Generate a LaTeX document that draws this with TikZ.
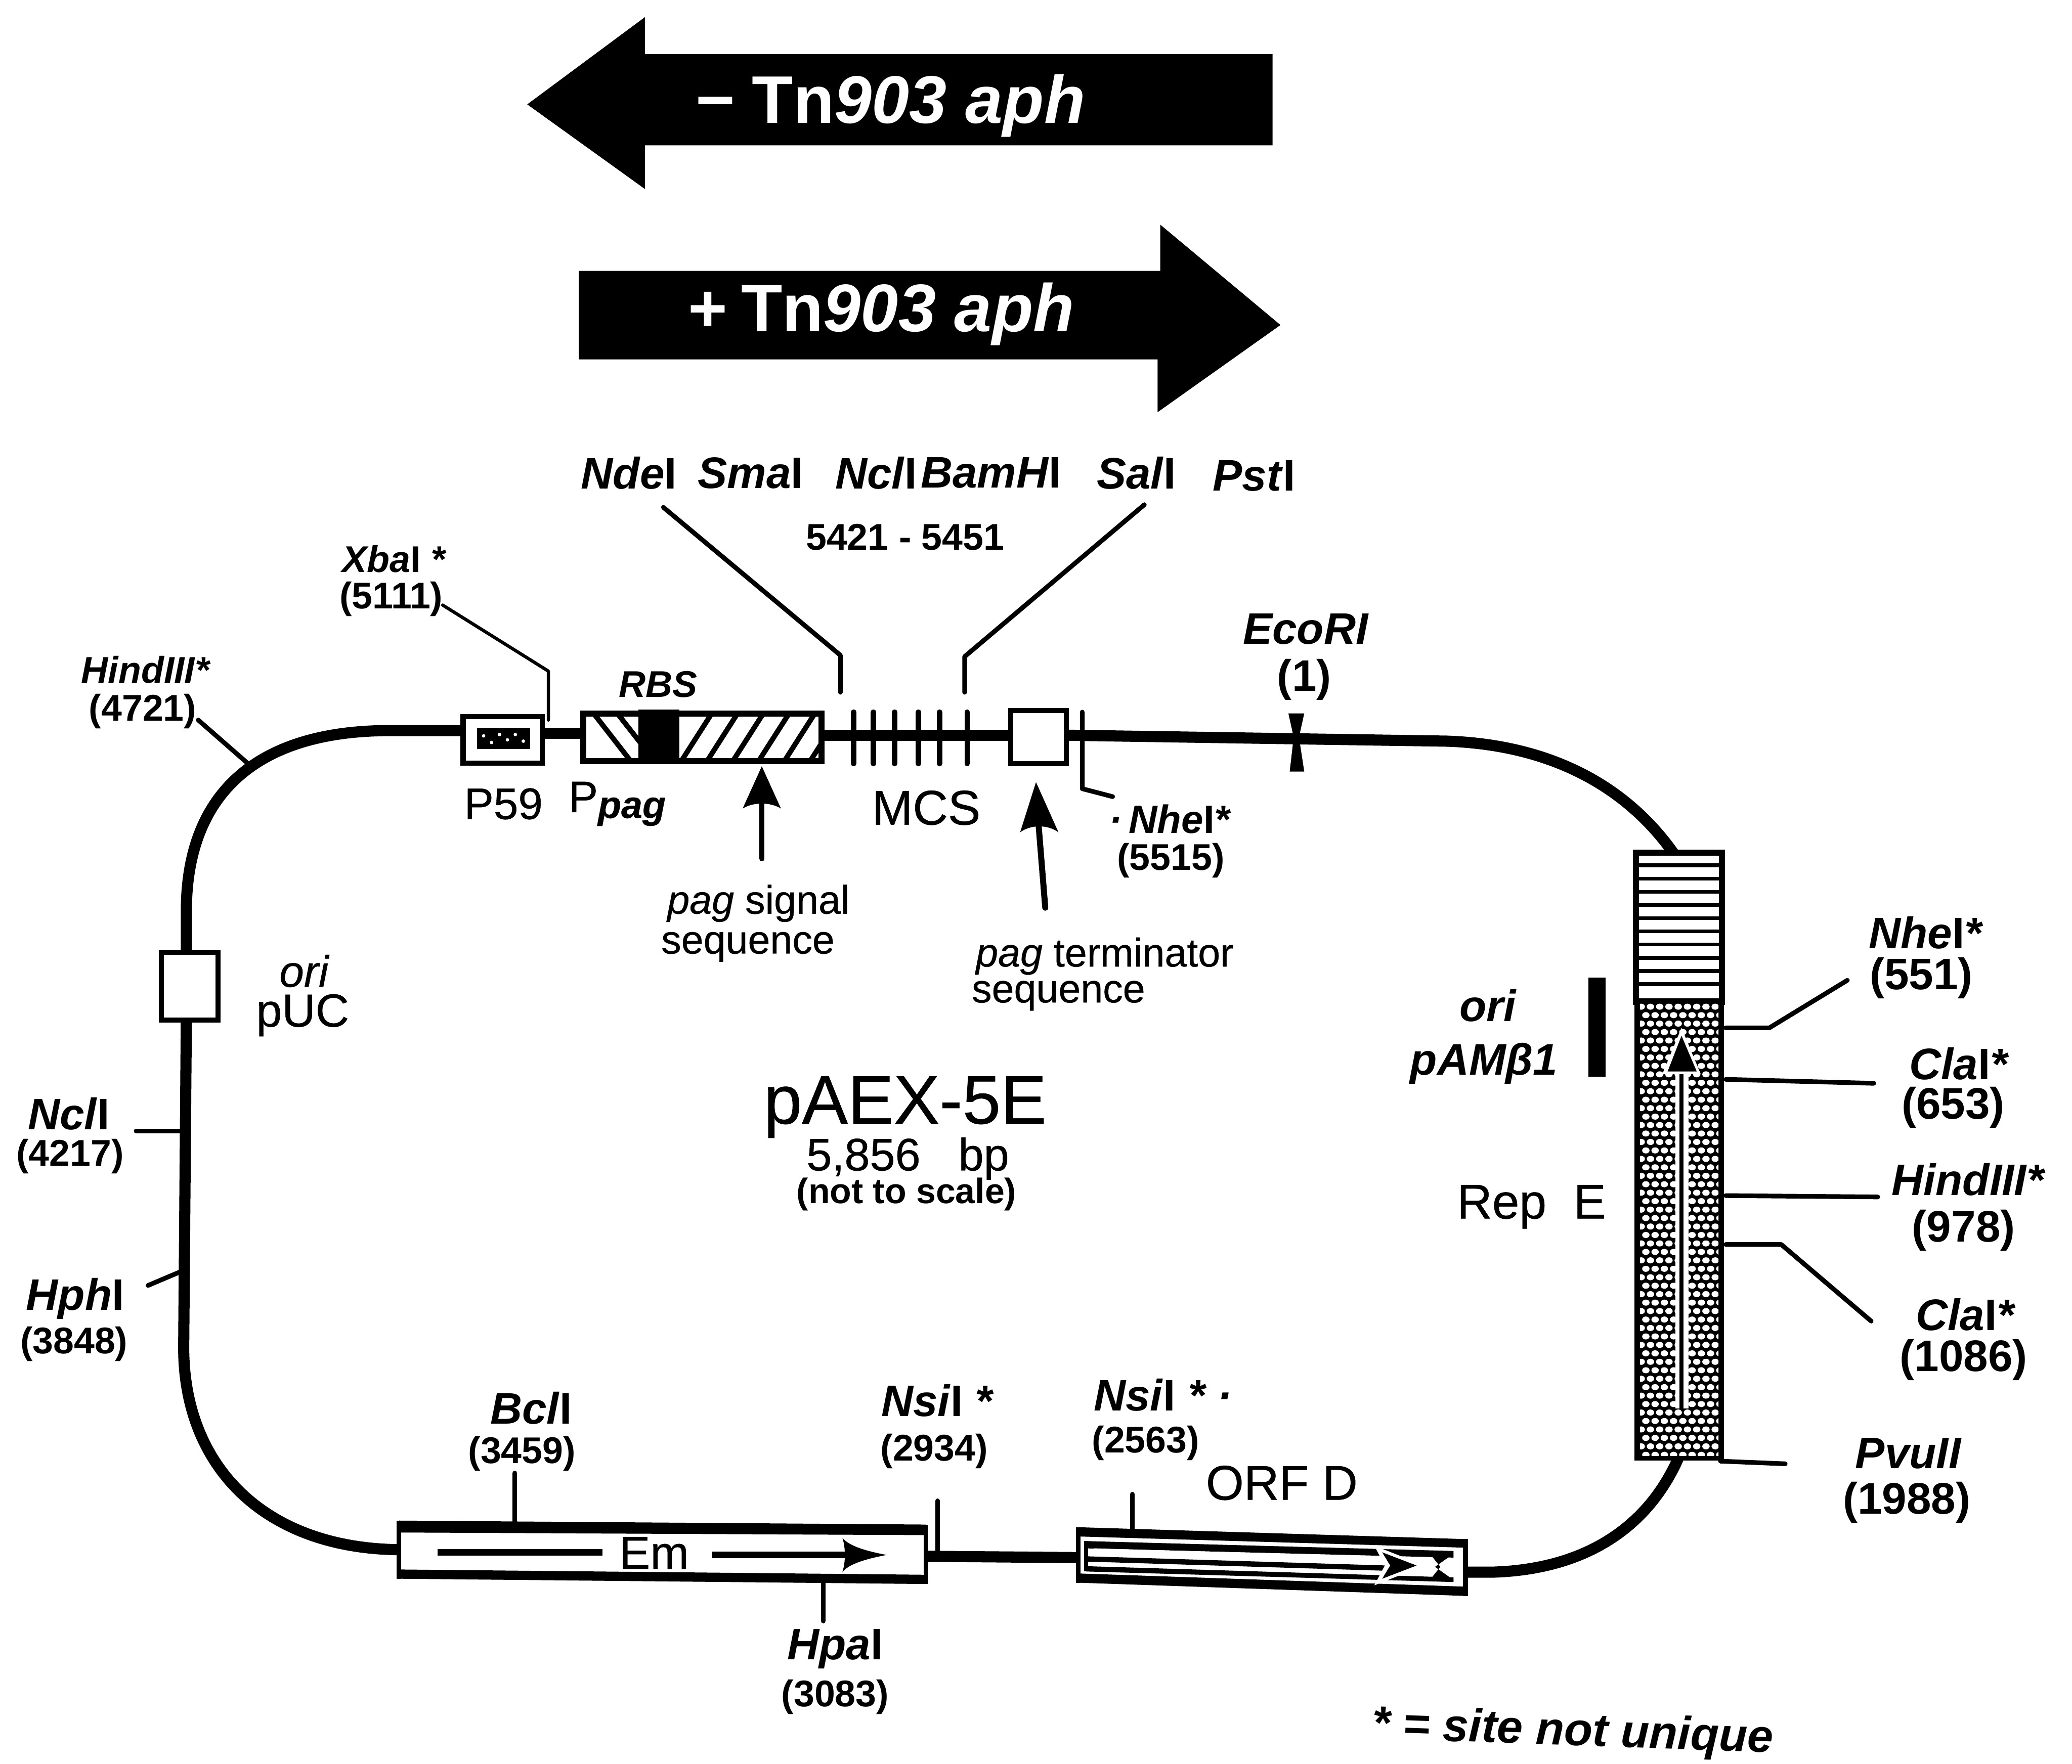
\documentclass[tikz,border=0pt]{standalone}
\usepackage{fontspec}
\setmainfont{Liberation Sans}
\newcommand{\FS}[1]{\fontsize{#1}{#1}\selectfont}
\newcommand{\Semi}{\addfontfeature{FakeBold=0.5}}
\newcommand{\En}[1]{{\itshape #1}\textup{I}}
\newcommand{\Pg}{{\itshape\Semi pag}}
\tikzset{
  x=0.01cm,y=-0.01cm,
  lab/.style={inner sep=0,outer sep=0,anchor=center},
  enz/.style={lab,font=\FS{9.5}\bfseries\itshape},
  enzs/.style={lab,font=\FS{8}\bfseries\itshape},
  num/.style={lab,yshift=-0.7pt,font=\FS{9.5}\bfseries},
  nums/.style={lab,yshift=-0.7pt,font=\FS{8}\bfseries},
  reg/.style={lab,yshift=-0.7pt,font=\FS{10}\Semi},
  small/.style={lab,yshift=-0.5pt,font=\FS{8.6}\Semi},
  big/.style={lab,yshift=-1.1pt,font=\FS{14.5}\bfseries,text=white},
  backbone/.style={line width=2.4pt},
  tick/.style={line width=1pt,line cap=round,line join=round},
  mcstick/.style={line width=1.15pt,line cap=round},
  box/.style={draw,line width=1.1pt,fill=white,inner sep=0,outer sep=0},
  ptr/.style={line width=1.1pt,line cap=round},
}
\begin{document}
\begin{tikzpicture}
\fill[white] (0,0) rectangle (1568,1335);
\useasboundingbox (0,0) rectangle (1568,1335);

% Tn903 arrows
\fill (399,79) -- (488,13) -- (488,41) -- (963,41) -- (963,110) -- (488,110) -- (488,143) -- cycle;
\node[big] (minus) at (674,76) {−\hspace{0.25em}Tn{\itshape 903 aph}};
\fill (438,205) -- (878,205) -- (878,170) -- (969,246) -- (876,312) -- (876,272) -- (438,272) -- cycle;
\node[big] (plus) at (667,234) {+\hspace{0.2em}Tn{\itshape 903 aph}};

% backbone first, components on top
\coordinate (hindtop) at (295,553);
\coordinate (lev1) at (0,555);
\coordinate (lev2) at (0,556.5);
\coordinate (bl) at (302,1173);
\coordinate (br) at (700.6,1178);
\coordinate (orfl) at (816,1179);
\coordinate (orfr) at (1109,1190);
\coordinate (reptop) at (1268,648);
\coordinate (repbot) at (1270,1104);

\node[box,minimum width=0.6cm,minimum height=0.35cm] (p59) at (380.5,560) {};
\node[box,minimum width=1.8cm,minimum height=0.36cm] (sig) at (531.5,558) {};
\node[box,minimum width=0.42cm,minimum height=0.40cm] (term) at (786,558) {};
\node[box,minimum width=0.43cm,minimum height=0.51cm] (oripuc) at (143.5,746.5) {};

\draw[backbone] (p59.west |- hindtop) -- (hindtop) .. controls (195,553) and (141,600) .. (141,690) -- (oripuc.north -| 141,690);
\draw[backbone] (141,772) -- (139,1020) .. controls (139,1110) and (200,1172) .. (bl);
\draw[backbone] (p59.east |- lev1) -- (sig.west |- lev1);
\draw[backbone] (sig.east |- lev2) -- (term.west |- lev2);
\draw[backbone] (term.east |- lev2) -- (1095,561) .. controls (1180,564) and (1235,600) .. (reptop);
\draw[backbone] (br) -- (orfl);
\draw[backbone] (orfr) -- (1130,1190) .. controls (1195,1188) and (1245,1160) .. (repbot);

% P59 interior
\fill (361,551) rectangle (401,567);
\foreach \a/\b in {366/557,372/562,378/556,384/560,390/556,396/561}{\fill[white] (\a,\b) circle[radius=1.3];}

% signal box hatch
\begin{scope}
\clip (sig.south west) rectangle (sig.north east);
\foreach \a in {515,534.5,554,573.5,593,612.5}{\draw[line width=1.1pt] (\a,577) -- (\a+23,541);}
\draw[line width=1.1pt] (450,541) -- (478,577);
\draw[line width=1.1pt] (468,541) -- (486,564);
\end{scope}
\draw[line width=1.3pt] (sig.south west) rectangle (sig.north east);
\fill (483,537) rectangle (514,577);
\node[enzs] (rbs) at (498,518) {RBS};

% MCS ticks
\foreach \a/\n in {646/a,661/b,677/c,695/d,711/e,732/f}{
  \coordinate (mt\n) at (\a,539); \coordinate (mb\n) at (\a,578);
  \draw[mcstick] (mt\n) -- (mb\n);
}
\node[reg,font=\FS{10.5}\Semi] (mcs) at (701,609) {MCS};

% Nhe tick at terminator
\coordinate (nh0) at (819,539); \coordinate (nh1) at (819,597); \coordinate (nh2) at (842,603);
\draw[tick] (nh0) -- (nh1) -- (nh2);
\node[enz,font=\FS{8.5}\bfseries\itshape] (nheA) at (885,620) {·\,\En{Nhe}*};
\node[nums] (nheAn) at (886,649) {(5515)};

% top labels
\node[enz] (nde) at (476,358) {\En{Nde}};
\node[enz] (sma) at (568,358) {\En{Sma}};
\node[enz] (ncoT) at (663,358) {\En{Ncl}};
\node[enz] (bam) at (750,358) {\En{BamH}};
\node[enz] (sal) at (860,358) {\En{Sal}};
\node[enz] (pst) at (949,360) {\En{Pst}};
\node[nums] (mcsnum) at (685,404) {5421 - 5451};
\coordinate (a1) at (502,384); \coordinate (a2) at (636,496); \coordinate (a3) at (636,524);
\coordinate (b1) at (866,382); \coordinate (b2) at (730,497); \coordinate (b3) at (730,524);
\draw[tick] (a1) -- (a2) -- (a3);
\draw[tick] (b1) -- (b2) -- (b3);

% Xba
\node[enzs] (xba) at (298,423) {\En{Xba} *};
\node[nums] (xban) at (296,451) {(5111)};
\coordinate (x1) at (335,458); \coordinate (x2) at (415,508); \coordinate (x3) at (415,545);
\draw[line width=0.7pt,line cap=round,line join=round] (x1) -- (x2) -- (x3);

% Hind top-left
\node[enzs] (hindL) at (110,507) {{\itshape Hind}III*};
\node[nums] (hindLn) at (108,536) {(4721)};
\coordinate (h1) at (150,545); \coordinate (h2) at (190,580);
\draw[tick] (h1) -- (h2);

% EcoRI
\node[enz] (eco) at (988,476) {{\itshape Eco}RI};
\node[num] (econ) at (987,512) {(1)};
\fill (975,540) -- (987,540) -- (983,558) -- (987,584) -- (976,584) -- (979,558) -- cycle;

% P59 labels
\node[reg,font=\FS{9.5}\Semi] (p59l) at (381,606) {P59};
\node[reg,font=\FS{9.5}\Semi] (ppag) at (467,606) {P{\raisebox{-0.25ex}{\FS{8.2}\bfseries\itshape pag}}};

% signal arrow
\coordinate (sa) at (576.5,650); \coordinate (sb) at (576.5,608);
\draw[ptr] (sa) -- (sb);
\fill (576.5,580) -- (591,612) .. controls (583,607) and (570,607) .. (562,612) -- cycle;
\node[small] (sig1) at (574,682) {\Pg{} signal};
\node[small] (sig2) at (566,715) {sequence};

% terminator arrow
\coordinate (ta) at (791,687); \coordinate (tb) at (786,625);
\draw[line width=1.3pt,line cap=round] (ta) -- (tb);
\fill (784,592) -- (801,630) .. controls (793,624) and (780,624) .. (772,630) -- cycle;
\node[small] (ter1) at (836,722) {\Pg{} terminator};
\node[small] (ter2) at (801,752) {sequence};

% ori pUC
\node[lab,font=\FS{9.5}\itshape\Semi] (oril) at (230,735) {ori};
\node[reg] (puc) at (229,766) {pUC};

% left ticks
\node[enz] (nclL) at (52,843) {\En{Ncl}};
\node[nums] (nclLn) at (53,873) {(4217)};
\coordinate (n1) at (103,856); \coordinate (n2) at (138,856);
\draw[tick] (n1) -- (n2);
\node[enz] (hph) at (57,983) {\En{Hph}};
\node[nums] (hphn) at (56,1015) {(3848)};
\coordinate (p1) at (112,973); \coordinate (p2) at (138,962);
\draw[tick] (p1) -- (p2);

% centre
\node[lab,font=\FS{14.8}\Semi] (name) at (685,838) {pAEX-5E};
\node[lab,font=\FS{9.8}\Semi] (size) at (687,877) {5,856\ \ \ bp};
\node[lab,font=\FS{7.6}\bfseries] (scale) at (686,904) {(not to scale)};

% Rep box
\node[box,minimum width=0.65cm,minimum height=1.13cm] (repS) at (1270.5,702) {};
\foreach \k in {0,...,9}{\draw[line width=0.8pt] (1237,{655+\k*10}) -- (1304,{655+\k*10});}
\draw[line width=1.3pt] (repS.south west) rectangle (repS.north east);
\node[draw,line width=1.1pt,fill=black,inner sep=0,outer sep=0,minimum width=0.635cm,minimum height=3.46cm] (rep) at (1270.75,930.5) {};
\begin{scope}
\clip (1241,759) rectangle (1300.5,1102);
\foreach \r in {0,...,53}{
  \pgfmathsetmacro{\yy}{762+\r*6.4}
  \pgfmathsetmacro{\off}{mod(\r,2)*3.5}
  \fill[white] \foreach \c in {0,...,8}{ ({1242+\c*7+\off},\yy) ellipse[x radius=2.8,y radius=2.3] };
}
\end{scope}
\fill[white] (1268,800) rectangle (1278,1066);
\coordinate (ra) at (1272.5,1066); \coordinate (rb) at (1272.5,808);
\draw[line width=0.9pt] (ra) -- (rb);
\fill[white] (1272.5,778) -- (1287,813) -- (1258,813) -- cycle;
\fill (1272.5,784) -- (1284,811) -- (1262,811) -- cycle;
\node[reg,font=\FS{10.5}\Semi] (repE) at (1159,911) {Rep\ \ E};
\node[enz] (ori2) at (1126,761) {ori};
\node[enz] (pam) at (1123,805) {pAMβ1};
\fill (1202,740) rectangle (1215,815);

% Rep ticks + labels
\coordinate (r1a) at (1306,778); \coordinate (r1b) at (1339,778); \coordinate (r1c) at (1398,742);
\draw[tick] (r1a) -- (r1b) -- (r1c);
\node[enz] (nheB) at (1457,706) {\En{Nhe}*};
\node[num] (nheBn) at (1454,738) {(551)};
\coordinate (r2a) at (1306,817); \coordinate (r2b) at (1418,820);
\draw[tick] (r2a) -- (r2b);
\node[enz] (claA) at (1482,805) {\En{Cla}*};
\node[num] (claAn) at (1478,836) {(653)};
\coordinate (r3a) at (1306,905); \coordinate (r3b) at (1421,906);
\draw[tick] (r3a) -- (r3b);
\node[enz] (hindR) at (1489,893) {{\itshape Hind}III*};
\node[num] (hindRn) at (1486,929) {(978)};
\coordinate (r4a) at (1306,942); \coordinate (r4b) at (1348,942); \coordinate (r4c) at (1416,1000);
\draw[tick] (r4a) -- (r4b) -- (r4c);
\node[enz] (claB) at (1487,995) {\En{Cla}*};
\node[num] (claBn) at (1486,1027) {(1086)};
\coordinate (r5a) at (1302,1106); \coordinate (r5b) at (1351,1108);
\draw[tick] (r5a) -- (r5b);
\node[enz] (pvu) at (1444,1100) {{\itshape Pvu}II};
\node[num] (pvun) at (1443,1135) {(1988)};

% Em box
\fill[white] (302,1152) -- (700.6,1156) -- (700.6,1198) -- (302,1195) -- cycle;
\fill (302,1151) -- (700.6,1154) -- (700.6,1162) -- (302,1160) -- cycle;
\fill (302,1188) -- (700.6,1192) -- (700.6,1199) -- (302,1195) -- cycle;
\draw[line width=1pt] (302,1151) -- (302,1195) (700.6,1154) -- (700.6,1199);
\node[reg] (em) at (495,1173) {Em};
\coordinate (e1) at (331,1175); \coordinate (e2) at (456,1175);
\coordinate (e3) at (539,1177); \coordinate (e4) at (645,1177);
\draw[line width=1.4pt] (e1) -- (e2);
\draw[line width=1.4pt] (e3) -- (e4);
\fill (671,1177) .. controls (655,1174) and (642,1170) .. (637.5,1164) .. controls (640,1172) and (640,1182) .. (637.5,1190) .. controls (642,1184) and (655,1180) .. (671,1177) -- cycle;

% ORF box (tilted)
\fill[white] (816,1156) -- (1109,1165) -- (1109,1208) -- (816,1198) -- cycle;
\fill (816,1156) -- (1109,1165) -- (1109,1171.5) -- (816,1163) -- cycle;
\fill (816,1191) -- (1109,1201) -- (1109,1208) -- (816,1198) -- cycle;
\draw[line width=1pt] (816,1156) -- (816,1198) (1109,1165) -- (1109,1208);
\fill (822,1166.5) -- (1100,1174) -- (1100,1179) -- (822,1172) -- cycle;
\fill (822,1178) -- (1050,1185) -- (1050,1189) -- (822,1182) -- cycle;
\fill (822,1185.5) -- (1100,1194) -- (1100,1197.5) -- (822,1189.5) -- cycle;
\fill[white] (828,1172) -- (1042,1178) -- (1042,1182) -- (828,1178) -- cycle;
\draw[line width=0.9pt] (822,1166.5) -- (822,1189.5);
\fill[white] (1040,1170) -- (1078,1185) -- (1040,1200) -- (1048,1185) -- cycle;
\fill (1046,1175) -- (1072,1185) -- (1046,1195) -- (1052,1185) -- cycle;
\fill (1082,1176) -- (1100,1176) -- (1086,1186) -- (1100,1196) -- (1082,1196) -- (1090,1186) -- cycle;
\node[reg,font=\FS{10.5}\Semi] (orf) at (970,1120) {ORF D};

% bottom ticks + labels
\coordinate (bc1) at (389.6,1115); \coordinate (bc2) at (389.6,1152);
\draw[tick] (bc1) -- (bc2);
\node[enz] (bcl) at (402,1066) {\En{Bcl}};
\node[nums] (bcln) at (395,1098) {(3459)};
\coordinate (ns1) at (709.5,1136); \coordinate (ns2) at (709.5,1175);
\draw[tick] (ns1) -- (ns2);
\node[enz] (nsiA) at (709,1060) {\En{Nsi} *};
\node[nums] (nsiAn) at (707,1096) {(2934)};
\coordinate (nt1) at (857,1131); \coordinate (nt2) at (857,1159);
\draw[tick] (nt1) -- (nt2);
\node[enz] (nsiB) at (880,1056) {\En{Nsi} * ·};
\node[nums] (nsiBn) at (867,1090) {(2563)};
\coordinate (hp1) at (623,1197); \coordinate (hp2) at (623,1227);
\draw[tick] (hp1) -- (hp2);
\node[enz] (hpa) at (632,1248) {\En{Hpa}};
\node[nums] (hpan) at (632,1282) {(3083)};

\node[lab,font=\FS{10}\bfseries\itshape,rotate=-2] (note) at (1190,1312) {* = site not unique};
\end{tikzpicture}
\end{document}
